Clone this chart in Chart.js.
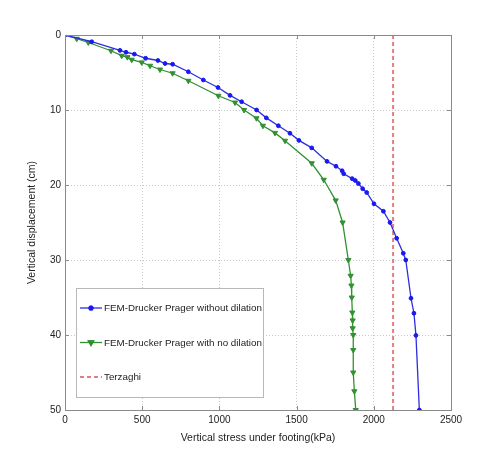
<!DOCTYPE html>
<html>
<head>
<meta charset="utf-8">
<title>Vertical stress vs displacement</title>
<script src="https://cdn.jsdelivr.net/npm/chart.js@4.4.1/dist/chart.umd.min.js"></script>
<style>
    body{ margin:0; background:#fff; }
    #box{ width:500px; height:460px; }
</style>
</head>
<body>
<div id="box"><canvas id="graf" width="500" height="460"></canvas></div>
<script>

// dados
var labelsSerie = ['FEM-Drucker Prager without dilation', 'FEM-Drucker Prager with no dilation', 'Terzaghi']

var stressSemDil = [0, 173, 356, 395, 449, 522, 602, 648, 697, 799, 896, 991, 1069, 1144, 1241, 1304, 1382, 1457, 1515, 1598, 1697, 1755, 1795, 1805, 1860, 1880, 1900, 1928, 1954, 2001, 2062, 2105, 2148, 2191, 2207, 2241, 2260, 2273, 2295]
var despSemDil   = [0, 0.9, 2.05, 2.3, 2.55, 3.1, 3.4, 3.8, 3.9, 4.9, 6.0, 7.0, 8.05, 8.9, 10.0, 11.05, 12.1, 13.1, 14.05, 15.05, 16.85, 17.5, 18.1, 18.5, 19.15, 19.4, 19.8, 20.5, 21.0, 22.5, 23.5, 25.0, 27.1, 29.1, 30.0, 35.1, 37.1, 40.05, 50]

var stressNoDil = [0, 76, 151, 298, 367, 404, 432, 497, 551, 615, 697, 799, 993, 1101, 1160, 1240, 1282, 1360, 1425, 1598, 1676, 1753, 1798, 1835, 1850, 1855, 1857, 1861, 1863, 1863, 1867, 1867, 1867, 1874, 1883]
var despNoDil   = [0, 0.5, 1.0, 2.1, 2.76, 2.95, 3.3, 3.65, 4.1, 4.6, 5.1, 6.1, 8.1, 9.0, 10.0, 11.1, 12.1, 13.05, 14.1, 17.1, 19.3, 22.05, 25.0, 30.0, 32.1, 33.4, 35.0, 37.0, 38.05, 39.1, 40.0, 42.0, 45.0, 47.5, 50]

var stressTerzaghi = [2125, 2125]
var despTerzaghi   = [0, 50]

var xTicks = [0, 500, 1000, 1500, 2000, 2500]
var yTicks = [0, 10, 20, 30, 40, 50]

var corAzul = 'rgb(45,45,225)'
var corVerde = 'rgb(50,145,50)'
var corVermelho = 'rgb(228,125,125)'
var fonte = '"Liberation Sans", Arial, sans-serif'

/**
 * @description: junta x e y em pontos
*/
function montaPontos(xs, ys){
    var pts = []
    for(var i = 0; i < xs.length; i++){
        pts.push({x: xs[i], y: ys[i]})
    }
    return pts
}

/**
 * @description: moldura, marcas internas e legenda dentro do grafico
*/
var molduraPlugin = {
    id: 'moldura',
    afterDraw: function(chart){
        var ctx = chart.ctx
        var a = chart.chartArea
        var sx = chart.scales.x
        var sy = chart.scales.y

        ctx.save()
        ctx.strokeStyle = '#8a8a8a'
        ctx.lineWidth = 1
        ctx.strokeRect(a.left + 0.5, a.top + 0.5, a.right - a.left, a.bottom - a.top)

        // marcas para dentro
        ctx.beginPath()
        xTicks.forEach(function(v){
            var px = Math.round(sx.getPixelForValue(v)) + 0.5
            ctx.moveTo(px, a.bottom); ctx.lineTo(px, a.bottom - 4)
            ctx.moveTo(px, a.top); ctx.lineTo(px, a.top + 4)
        })
        yTicks.forEach(function(v){
            var py = Math.round(sy.getPixelForValue(v)) + 0.5
            ctx.moveTo(a.left, py); ctx.lineTo(a.left + 4, py)
            ctx.moveTo(a.right, py); ctx.lineTo(a.right - 4, py)
        })
        ctx.stroke()

        // legenda
        var lx = 76, ly = 288, lw = 187, lh = 109
        ctx.fillStyle = '#fff'
        ctx.fillRect(lx, ly, lw, lh)
        ctx.strokeStyle = '#b8b8b8'
        ctx.strokeRect(lx + 0.5, ly + 0.5, lw, lh)

        var linhasY = [308, 342.5, 377]
        chart.data.datasets.forEach(function(ds, i){
            var yy = linhasY[i]
            ctx.strokeStyle = ds.borderColor
            ctx.lineWidth = ds.borderWidth
            ctx.setLineDash(ds.borderDash || [])
            ctx.beginPath()
            ctx.moveTo(80, yy); ctx.lineTo(102, yy)
            ctx.stroke()
            ctx.setLineDash([])
            if(ds.pointRadius > 0){
                Chart.helpers.drawPoint(ctx, {
                    pointStyle: ds.pointStyle,
                    rotation: ds.pointRotation || 0,
                    radius: ds.pointRadius,
                    borderWidth: 1
                }, 91, yy)
                ctx.fillStyle = ds.pointBackgroundColor
                ctx.strokeStyle = ds.pointBorderColor
                ctx.fill()
                ctx.stroke()
            }
            ctx.fillStyle = '#222'
            ctx.font = '9.8px ' + fonte
            ctx.textBaseline = 'middle'
            ctx.textAlign = 'left'
            ctx.fillText(ds.label, 104, yy + 0.5)
        })
        ctx.restore()
    }
}

/**
 * @description: gera o grafico
*/
function gerarGrafico(){
    new Chart(document.getElementById('graf').getContext('2d'), {
        type: 'line',
        data: {
            datasets: [
                {
                    label: labelsSerie[0],
                    data: montaPontos(stressSemDil, despSemDil),
                    borderColor: corAzul,
                    borderWidth: 1.3,
                    pointStyle: 'circle',
                    pointRadius: 1.9,
                    pointBackgroundColor: 'rgb(25,25,240)',
                    pointBorderColor: 'rgb(25,25,240)',
                    pointBorderWidth: 1,
                    tension: 0
                },
                {
                    label: labelsSerie[1],
                    data: montaPontos(stressNoDil, despNoDil),
                    borderColor: corVerde,
                    borderWidth: 1.3,
                    pointStyle: 'triangle',
                    pointRotation: 180,
                    pointRadius: 3,
                    pointBackgroundColor: corVerde,
                    pointBorderColor: corVerde,
                    pointBorderWidth: 1,
                    tension: 0
                },
                {
                    label: labelsSerie[2],
                    data: montaPontos(stressTerzaghi, despTerzaghi),
                    borderColor: corVermelho,
                    borderWidth: 2,
                    borderDash: [4, 3],
                    pointRadius: 0,
                    tension: 0
                }
            ]
        },
        options: {
            responsive: false,
            animation: false,
            layout: { padding: { left: 0, top: 35, right: 49, bottom: 0 } },
            plugins: {
                legend: { display: false },
                tooltip: { enabled: false }
            },
            scales: {
                x: {
                    type: 'linear',
                    min: 0, max: 2500,
                    afterBuildTicks: function(s){ s.ticks = xTicks.map(function(v){ return {value: v} }) },
                    afterFit: function(s){ s.height = 50 },
                    grid: { color: '#c8c8c8', lineWidth: 1, drawTicks: false },
                    border: { display: false, dash: [1, 2] },
                    ticks: { padding: 4, color: '#222', font: { family: fonte, size: 10 }, maxRotation: 0, callback: function(v){ return String(v) } },
                    title: { display: true, text: 'Vertical stress under footing(kPa)', color: '#222', font: { family: fonte, size: 10.5 }, padding: { top: 0, bottom: 16 } }
                },
                y: {
                    type: 'linear',
                    reverse: true,
                    min: 0, max: 50,
                    afterBuildTicks: function(s){ s.ticks = yTicks.map(function(v){ return {value: v} }) },
                    afterFit: function(s){ s.width = 65 },
                    grid: { color: '#c8c8c8', lineWidth: 1, drawTicks: false },
                    border: { display: false, dash: [1, 2] },
                    ticks: { padding: 4, color: '#222', font: { family: fonte, size: 10 }, callback: function(v){ return String(v) } },
                    title: { display: true, text: 'Vertical displacement (cm)', color: '#222', font: { family: fonte, size: 10.5 }, padding: { top: 26, bottom: 0 } }
                }
            }
        },
        plugins: [molduraPlugin]
    })
}

gerarGrafico()
</script>
</body>
</html>
